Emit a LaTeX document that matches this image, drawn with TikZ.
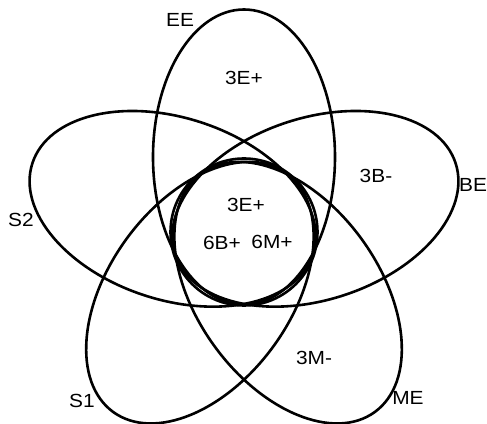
\documentclass[tikz,border=0pt]{standalone}
\usepackage{fontspec}
\setmainfont{Liberation Sans}
\usetikzlibrary{calc}
\begin{document}
\begin{tikzpicture}[x=1pt,y=1pt,
  petal/.style={draw=black,line width=2.6pt},
  lbl/.style={inner sep=0pt,font=\fontsize{19}{21}\selectfont,xscale=1.1}]
\useasboundingbox (0,0) rectangle (487,423);
\clip (0,0) rectangle (487,423);
\coordinate (o) at (244,191);
% five petals
\foreach \ang/\nm in {90/ee,18/be,-54/me,-126/sone,162/stwo}{
  \coordinate (\nm) at ($(o)+(\ang:75)$);
  \draw[petal,rotate around={\ang:(\nm)}] (\nm) ellipse [x radius=147.5,y radius=91];
}
\draw[petal] (o) circle [radius=73.5];
% labels
\node[lbl] (tEE) at (180,403.5) {EE};
\node[lbl] (tBE) [anchor=west] at (459,238) {BE};
\node[lbl] (tS2) at (21,203) {S2};
\node[lbl] (tS1) at (82,22) {S1};
\node[lbl] (tME) at (408,25) {ME};
\node[lbl] (a1) at (244,345) {3E+};
\node[lbl] (a2) at (376,247) {3B-};
\node[lbl] (a3) at (246,218) {3E+};
\node[lbl] (a4) at (222,180) {6B+};
\node[lbl] (a5) at (272,181) {6M+};
\node[lbl] (a6) at (314,65) {3M-};
\end{tikzpicture}
\end{document}
